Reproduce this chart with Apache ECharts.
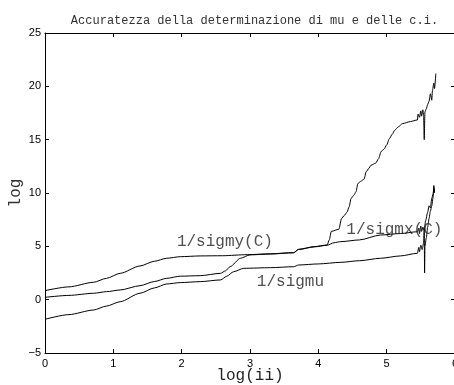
<!DOCTYPE html>
<html>
<head>
<meta charset="utf-8">
<script src="https://cdn.jsdelivr.net/npm/echarts@6/dist/echarts.min.js"></script>
<style>html,body{margin:0;padding:0;background:#fff;}#c{width:454px;height:385px;}</style>
</head>
<body>
<div id="c"></div>
<script>
const titleText = 'Accuratezza della determinazione di mu e delle c.i.';
const xName = 'log(ii)';
const yName = 'log';
const xTicks = [0, 1, 2, 3, 4, 5, 6];
const yTicks = [-5, 0, 5, 10, 15, 20, 25];

const sigmy = [[0,0.85],[0.35,1.2],[0.71,1.63],[0.9,2.0],[1.10,2.47],[1.39,3.16],[1.6,3.6],[1.78,3.88],[1.98,4.03],[2.27,4.1],[2.6,4.12],[2.96,4.22],[3.3,4.3],[3.64,4.41],[3.71,4.72],[3.94,4.97],[4.13,5.13],[4.16,5.6],[4.19,6.4],[4.30,6.6],[4.34,7.6],[4.38,7.9],[4.42,8.2],[4.45,8.7],[4.48,9.5],[4.52,9.8],[4.55,10.1],[4.58,10.9],[4.62,11.1],[4.67,11.3],[4.70,12.0],[4.74,12.3],[4.77,12.6],[4.84,12.8],[4.88,13.2],[4.92,13.9],[4.96,14.1],[5.00,14.5],[5.04,15.1],[5.08,15.5],[5.12,15.9],[5.17,16.2],[5.23,16.5],[5.35,16.7],[5.45,16.85],[5.46,17.4],[5.48,17.1],[5.50,17.7],[5.51,17.2],[5.53,17.8],[5.54,17.3],[5.55,15.0],[5.56,17.6],[5.58,17.9],[5.60,18.3],[5.62,18.6],[5.64,19.3],[5.66,18.7],[5.67,19.6],[5.69,20.3],[5.70,19.8],[5.72,21.2]];

const sigmx = [[0,0.22],[0.35,0.4],[0.71,0.6],[0.9,0.75],[1.10,0.91],[1.39,1.31],[1.6,1.7],[1.78,2.0],[1.98,2.2],[2.27,2.25],[2.57,2.47],[2.64,2.7],[2.71,3.1],[2.86,3.88],[3.0,4.2],[3.3,4.28],[3.64,4.4],[3.71,4.7],[3.94,4.95],[4.13,5.1],[4.23,5.34],[4.33,5.44],[4.6,5.6],[4.91,6.06],[5.2,6.2],[5.45,6.37],[5.47,6.7],[5.48,6.2],[5.50,6.9],[5.51,6.4],[5.53,6.8],[5.55,6.5],[5.57,7.4],[5.60,8.2],[5.62,8.8],[5.64,8.6],[5.66,9.5],[5.68,9.9],[5.69,10.5],[5.70,10.0]];

const sigmu = [[0,-1.84],[0.35,-1.4],[0.71,-0.97],[0.9,-0.6],[1.10,-0.19],[1.39,0.6],[1.6,1.1],[1.78,1.47],[1.98,1.6],[2.27,1.69],[2.57,1.85],[2.66,2.2],[2.76,2.62],[2.91,2.94],[3.3,3.0],[3.64,3.09],[3.71,3.25],[4.0,3.35],[4.33,3.5],[4.6,3.65],[4.91,3.88],[5.2,4.1],[5.45,4.35],[5.47,4.9],[5.48,4.5],[5.50,5.1],[5.52,4.7],[5.54,5.3],[5.55,6.7],[5.555,2.5],[5.56,5.0],[5.58,5.8],[5.60,6.8],[5.62,7.6],[5.64,8.3],[5.66,8.8],[5.68,9.6],[5.69,10.7],[5.70,10.1]];

const annotations = [[1.93, 5.45, '1/sigmy(C)'], [3.10, 1.7, '1/sigmu'], [4.41, 6.6, '1/sigmx(C)']];

const mono = '"Liberation Mono", "DejaVu Sans Mono", monospace';
const sans = '"Liberation Sans", Arial, sans-serif';
const fmt = v => String(v).replace('-', '\u2212');

const lineSeries = (d) => ({
  type: 'line', data: d, showSymbol: false, symbol: 'none',
  smooth: 0.25, smoothMonotone: 'x',
  lineStyle: { color: '#000', width: 1 }, silent: true, animation: false, z: 3
});

const chart = echarts.init(document.getElementById('c'), null, { renderer: 'canvas' });
chart.setOption({
  backgroundColor: '#fff',
  animation: false,
  title: {
    text: titleText, left: 249.5, top: 10, textAlign: 'center',
    textStyle: { fontFamily: mono, fontSize: 12, fontWeight: 'normal', color: '#333' }
  },
  grid: { left: 45, right: -1, top: 33, bottom: 32, containLabel: false, outerBoundsMode: 'none' },
  xAxis: [{
    type: 'value', min: xTicks[0], max: xTicks[xTicks.length - 1], interval: 1,
    name: xName, nameLocation: 'middle', nameGap: 15, nameMoveOverlap: false,
    nameTextStyle: { fontFamily: mono, fontSize: 16, color: '#222' },
    axisLine: { show: true, onZero: false, lineStyle: { color: '#000', width: 1 } },
    axisTick: { show: true, inside: true, length: 4, lineStyle: { color: '#000' } },
    axisLabel: { margin: 5, fontFamily: sans, fontSize: 11, color: '#000', formatter: fmt, showMinLabel: true, showMaxLabel: true, hideOverlap: false },
    splitLine: { show: false }
  }, {
    type: 'value', position: 'top', min: xTicks[0], max: xTicks[xTicks.length - 1], interval: 1,
    axisLine: { show: true, onZero: false, lineStyle: { color: '#000', width: 1 } },
    axisTick: { show: true, inside: true, length: 4, lineStyle: { color: '#000' } },
    axisLabel: { show: false }, splitLine: { show: false }
  }],
  yAxis: [{
    type: 'value', min: yTicks[0], max: yTicks[yTicks.length - 1], interval: 5,
    name: yName, nameLocation: 'middle', nameGap: 21, nameRotate: 90, nameMoveOverlap: false,
    nameTextStyle: { fontFamily: mono, fontSize: 16, color: '#333' },
    axisLine: { show: true, onZero: false, lineStyle: { color: '#000', width: 1 } },
    axisTick: { show: true, inside: true, length: 4, lineStyle: { color: '#000' } },
    axisLabel: { margin: 4, fontFamily: sans, fontSize: 11, color: '#000', formatter: fmt, showMinLabel: true, showMaxLabel: true },
    splitLine: { show: false }
  }, {
    type: 'value', position: 'right', min: yTicks[0], max: yTicks[yTicks.length - 1], interval: 5,
    axisLine: { show: true, onZero: false, lineStyle: { color: '#000', width: 1 } },
    axisTick: { show: true, inside: true, length: 4, lineStyle: { color: '#000' } },
    axisLabel: { show: false }, splitLine: { show: false }
  }],
  series: [
    lineSeries(sigmy), lineSeries(sigmx), lineSeries(sigmu),
    {
      type: 'scatter', data: annotations, symbolSize: 0, silent: true, z: 5,
      label: {
        show: true, position: 'inside', align: 'left', verticalAlign: 'middle',
        formatter: p => p.data[2], fontFamily: mono, fontSize: 16, color: '#222'
      }
    }
  ]
});
</script>
</body>
</html>
